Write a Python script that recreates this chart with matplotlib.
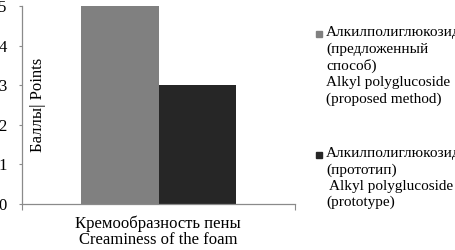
import matplotlib
matplotlib.use("Agg")
import matplotlib.pyplot as plt
from matplotlib.patches import Rectangle

# data
series_labels = [
    "Алкилполиглюкозид\n(предложенный\nспособ)\nAlkyl polyglucoside\n(proposed method)",
    "Алкилполиглюкозид\n(прототип)\n Alkyl polyglucoside\n(prototype)",
]
series_values = [5, 3]
series_colors = ["#808080", "#262626"]
category = "Кремообразность пены\nCreaminess of the foam"
y_ticks = [0, 1, 2, 3, 4, 5]

plt.rcParams["font.family"] = ["Liberation Serif", "DejaVu Serif"]

fig = plt.figure(figsize=(4.55, 2.5), dpi=100)
ax = fig.add_axes([22 / 455, 1 - 204 / 250, 273 / 455, 198 / 250])

width = 0.284
offsets = [-width / 2, width / 2]
for off, val, col in zip(offsets, series_values, series_colors):
    ax.bar(off, val, width=width, color=col, edgecolor="none")

ax.set_xlim(-0.5, 0.5)
ax.set_ylim(0, 5)
ax.set_yticks(y_ticks)
ax.set_yticklabels([str(t) for t in y_ticks], fontsize=12)
ax.set_xticks([-0.5, 0.5])
ax.set_xticklabels(["", ""])
ax.tick_params(axis="y", length=2, width=0.8, color="#8a8a8a", pad=9)
ax.tick_params(axis="x", length=4, width=0.8, color="#8a8a8a")

for side in ["top", "right"]:
    ax.spines[side].set_visible(False)
for side in ["left", "bottom"]:
    ax.spines[side].set_color("#8a8a8a")
    ax.spines[side].set_linewidth(0.9)

# category label under the axis
fig.text(158 / 455, 1 - 216 / 250, category, fontsize=12, ha="center",
         va="top", linespacing=1.0)
ax.text(0.058, 0.5, "Баллы| Points", rotation=90, transform=ax.transAxes,
        ha="center", va="center", fontsize=12)

# legend: square marker aligned with the first line
legend_tops = [26 / 250, 147 / 250]
for lab, col, top in zip(series_labels, series_colors, legend_tops):
    fig.patches.append(Rectangle((316 / 455, 1 - top - 11 / 250), 6 / 455, 6 / 250,
                                 transform=fig.transFigure, color=col))
    fig.text(326 / 455, 1 - top, lab, fontsize=11, va="top",
             ha="left", linespacing=1.3)

fig.savefig("out.png", dpi=100)
